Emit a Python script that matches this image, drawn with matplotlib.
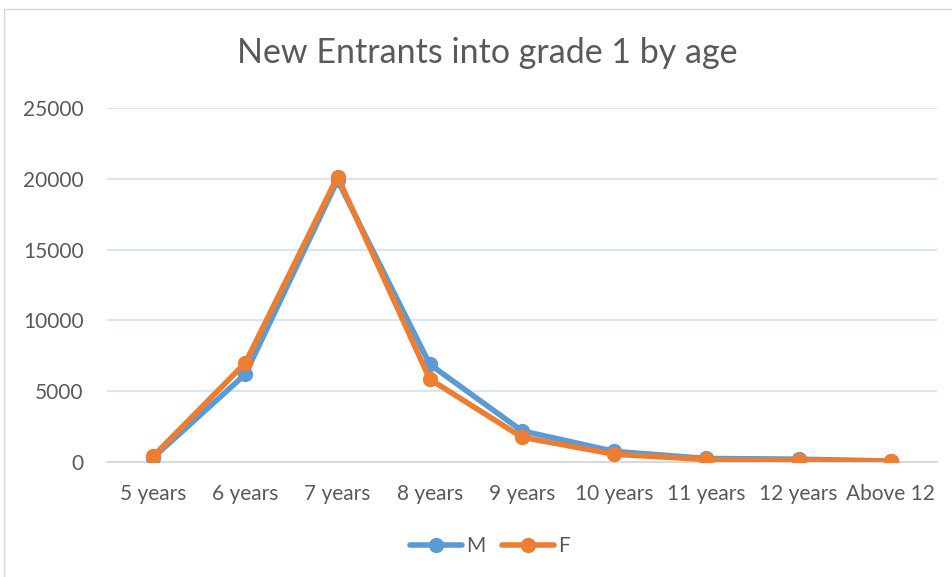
import matplotlib.pyplot as plt
from matplotlib.patches import Rectangle

ages = ["5 years", "6 years", "7 years", "8 years", "9 years",
        "10 years", "11 years", "12 years", "Above 12"]
male = [300, 6200, 19900, 6900, 2200, 750, 250, 200, 70]
female = [400, 7000, 20150, 5850, 1750, 550, 180, 130, 60]

plt.rcParams['font.family'] = ['Lato', 'DejaVu Sans']

fig = plt.figure(figsize=(9.52, 5.77), dpi=100)
ax = fig.add_axes([0.1124, 0.1993, 0.8718, 0.6135])

# chart border like excel
fig.patches.append(Rectangle((4 / 952, -0.01), 1.0, 1 - 9 / 577 + 0.01,
                             transform=fig.transFigure, fill=False,
                             edgecolor="#D9D9D9", linewidth=1))

x = range(len(ages))
ax.plot(x, male, color="#5B9BD5", linewidth=4, marker="o", markersize=10,
        label="M", solid_capstyle="round", zorder=3)
ax.plot(x, female, color="#ED7D31", linewidth=4, marker="o", markersize=10,
        label="F", solid_capstyle="round", zorder=4)

ax.set_xlim(-0.5, len(ages) - 0.5)
ax.set_ylim(0, 25000)
ax.set_yticks(range(0, 25001, 5000))
ax.set_xticks(list(x))
ax.set_xticklabels(ages)
ax.tick_params(axis="both", length=0, labelsize=15, colors="#595959")
ax.tick_params(axis="x", pad=16)
ax.tick_params(axis="y", pad=17)

ax.grid(axis="y", color="#D5E3F1", linewidth=1.3)
ax.set_axisbelow(True)
for s in ["top", "right", "left"]:
    ax.spines[s].set_visible(False)
ax.spines["bottom"].set_color("#D9D9D9")
ax.spines["bottom"].set_linewidth(1.5)

fig.text(0.512, 1 - 53 / 577, "New Entrants into grade 1 by age",
         ha="center", va="center", fontsize=24.5, color="#595959")

fig.legend(loc="center", bbox_to_anchor=(0.515, 1 - 546 / 577), ncol=2,
           frameon=False, fontsize=15, labelcolor="#595959",
           handlelength=2.5, handletextpad=0.2, columnspacing=0.8)

fig.savefig("out.png", dpi=100)
